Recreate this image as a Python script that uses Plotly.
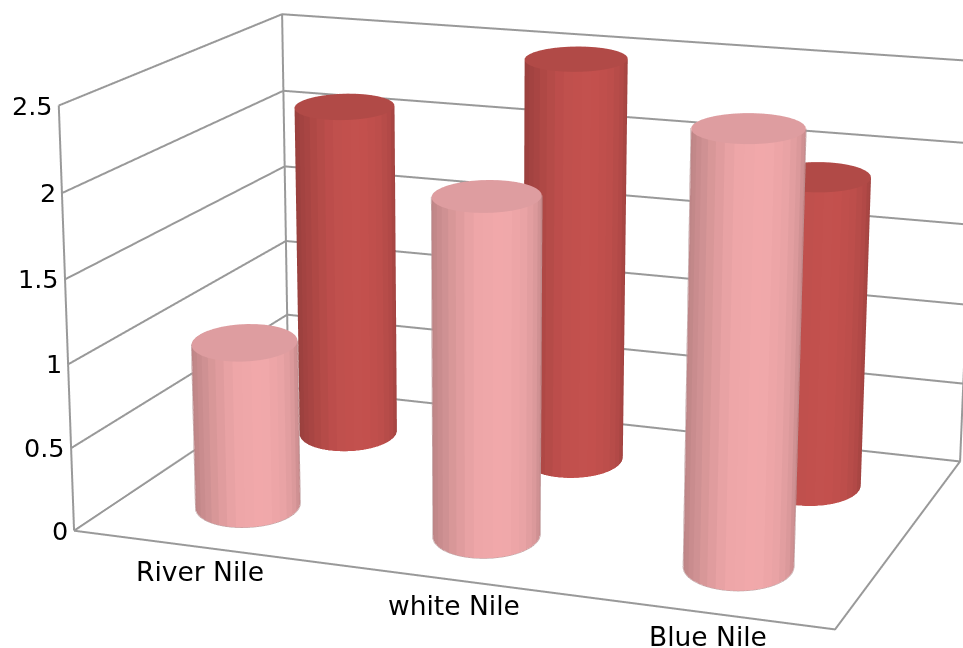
import numpy as np
import plotly.graph_objects as go

# Chart data
categories = ["River Nile", "white Nile", "Blue Nile"]
front_values = [1.0, 2.0, 2.5]
back_values = [2.1, 2.5, 1.9]
z_ticks = [0, 0.5, 1, 1.5, 2, 2.5]
z_tick_labels = ["0", "0.5", "1", "1.5", "2", "2.5"]

# Scene set-up: a long lens seen from the front right and slightly above
ASPECT = (1.0, 0.6784, 0.5544)
EYE = (1.3565, -3.8163, 1.091)
CENTER = (-0.0085, -0.1653, 0.0)
FOCAL_PX = 3229.0
HEIGHT_PX = 648
FOVY = 2 * np.arctan(HEIGHT_PX / 2 / FOCAL_PX)

X_RANGE = (0, len(categories))
Y_RANGE = (0, 2)
Z_RANGE = (0, 2.5)
RADIUS = 0.068       # half width of a cylinder, in scene units
DEPTH_STRETCH = 1.3  # bases are deeper than a true circle
SKEW = np.radians(6.5)
SIDES = 36
GRID = "#999999"
TICK_FONT = dict(family="DejaVu Sans", size=25.5, color="#000000")
LABEL_FONT = dict(family="DejaVu Sans", size=26.5, color="#000000")
LABEL_NUDGE = [8, 16, 9]
LABEL_DROP = [25, 28, 25]

SHADE_POS = [-1.0, -0.85, -0.55, -0.2, 0.3, 0.7, 0.9, 1.0]
SHADE_VAL = [0.78, 0.83, 0.91, 0.98, 1.0, 0.96, 0.90, 0.82]


def shaded(rgb, k):
    return "rgb({},{},{})".format(*[int(round(c * k)) for c in rgb])


def cylinder(xc, yc, height, side_rgb, cap_rgb, edge):
    to_x = (X_RANGE[1] - X_RANGE[0]) / ASPECT[0]
    to_y = (Y_RANGE[1] - Y_RANGE[0]) / ASPECT[1]

    # Ground-plane directions towards the camera and across the view
    sx = (xc - X_RANGE[0]) / to_x - ASPECT[0] / 2
    sy = (yc - Y_RANGE[0]) / to_y - ASPECT[1] / 2
    view = np.arctan2(EYE[1] - sy, EYE[0] - sx)
    across = np.array([np.cos(view + np.pi / 2), np.sin(view + np.pi / 2)])
    toward = np.array([np.cos(view), np.sin(view)])

    # Elliptical outline, long axis slightly turned from the line of sight
    axis = view - SKEW
    d_long = np.array([np.cos(axis), np.sin(axis)])
    d_short = np.array([-np.sin(axis), np.cos(axis)])

    def ring(a):
        pts = (RADIUS * DEPTH_STRETCH * np.cos(a))[:, None] * d_long \
            + (RADIUS * np.sin(a))[:, None] * d_short
        return pts

    a = np.linspace(0, 2 * np.pi, SIDES + 1)[:-1] + np.pi / SIDES
    pts = ring(a)
    xs = xc + pts[:, 0] * to_x
    ys = yc + pts[:, 1] * to_y

    vx = np.concatenate([xs, xs, [xc]])
    vy = np.concatenate([ys, ys, [yc]])
    vz = np.concatenate([np.zeros(SIDES), np.full(SIDES, height), [height]])

    # Facet shade follows the facet's position across the visible width
    mid = ring(a + np.pi / SIDES)
    lateral = mid @ across
    lateral = lateral / np.abs(lateral).max()

    i, j, k, colors = [], [], [], []
    for n in range(SIDES):
        m = (n + 1) % SIDES
        col = shaded(side_rgb, np.interp(lateral[n], SHADE_POS, SHADE_VAL))
        i += [n, n]
        j += [m, m + SIDES]
        k += [m + SIDES, n + SIDES]
        colors += [col, col]
        i.append(2 * SIDES)
        j.append(n + SIDES)
        k.append(m + SIDES)
        colors.append(shaded(cap_rgb, 1.0))

    mesh = go.Mesh3d(
        x=vx, y=vy, z=vz, i=i, j=j, k=k, facecolor=colors, flatshading=True,
        lighting=dict(ambient=1, diffuse=0, specular=0, roughness=1, fresnel=0),
        hoverinfo="skip", showscale=False,
    )
    if edge is None:
        return [mesh]

    # Outline: near half of the base and both silhouette edges
    t = np.linspace(0, 2 * np.pi, 145)[:-1]
    fine = ring(t) * 1.006
    side = fine @ across
    left, right = int(np.argmin(side)), int(np.argmax(side))
    order = np.arange(right, right + 145 - 1) % 144
    order = order[: ((left - right) % 144) + 1] if (fine[(right + 1) % 144] @ toward) > 0 \
        else np.arange(left, left + 144)[: ((right - left) % 144) + 1] % 144
    lx = list(xc + fine[order, 0] * to_x)
    ly = list(yc + fine[order, 1] * to_y)
    lz = [0] * len(order)
    for s in (left, right):
        px, py = xc + fine[s, 0] * to_x, yc + fine[s, 1] * to_y
        lx += [None, px, px]
        ly += [None, py, py]
        lz += [None, 0, height]
    outline = go.Scatter3d(x=lx, y=ly, z=lz, mode="lines",
                           line=dict(color=edge, width=1), hoverinfo="skip")
    return [mesh, outline]


fig = go.Figure()

# Frame: floor rectangle and the three visible uprights
x0, x1 = X_RANGE
y0, y1 = Y_RANGE
z0, z1 = Z_RANGE
frame_x = [x0, x1, x1, x0, x0, None, x0, x0, None, x0, x0, None, x1, x1]
frame_y = [y0, y0, y1, y1, y0, None, y0, y0, None, y1, y1, None, y1, y1]
frame_z = [z0, z0, z0, z0, z0, None, z0, z1, None, z0, z1, None, z0, z1]
fig.add_trace(go.Scatter3d(x=frame_x, y=frame_y, z=frame_z, mode="lines",
                           line=dict(color=GRID, width=4), hoverinfo="skip"))

# Value gridlines across the left and back walls
gx, gy, gz = [], [], []
for v in z_ticks:
    gx += [x0, x0, x1, None]
    gy += [y0, y1, y1, None]
    gz += [v, v, v, None]
fig.add_trace(go.Scatter3d(x=gx, y=gy, z=gz, mode="lines",
                           line=dict(color=GRID, width=4), hoverinfo="skip"))

for idx in range(len(categories)):
    for tr in cylinder(idx + 0.5, 1.5, back_values[idx],
                       (196, 81, 78), (177, 74, 71), None):
        fig.add_trace(tr)
    for tr in cylinder(idx + 0.5, 0.5, front_values[idx],
                       (242, 169, 171), (222, 157, 160), "#B9999A"):
        fig.add_trace(tr)

labels = []
for v, text in zip(z_ticks, z_tick_labels):
    labels.append(dict(x=x0, y=y0, z=v, text=text, showarrow=False, font=TICK_FONT,
                       xanchor="right", yanchor="middle", xshift=-4, yshift=0))
for idx, name in enumerate(categories):
    labels.append(dict(x=idx + 0.5, y=y0, z=z0, text=name, showarrow=False, font=LABEL_FONT,
                       xanchor="center", yanchor="middle",
                       xshift=LABEL_NUDGE[idx], yshift=-LABEL_DROP[idx]))

hidden = dict(visible=False, showgrid=False, zeroline=False, showbackground=False, showspikes=False)
fig.update_layout(
    width=963, height=HEIGHT_PX,
    margin=dict(l=0, r=0, t=0, b=0),
    paper_bgcolor="white",
    showlegend=False,
    scene=dict(
        xaxis=dict(range=list(X_RANGE), **hidden),
        yaxis=dict(range=list(Y_RANGE), **hidden),
        zaxis=dict(range=list(Z_RANGE), **hidden),
        aspectmode="manual",
        aspectratio=dict(x=ASPECT[0], y=ASPECT[1], z=ASPECT[2]),
        camera=dict(eye=dict(x=EYE[0], y=EYE[1], z=EYE[2]),
                    center=dict(x=CENTER[0], y=CENTER[1], z=CENTER[2]),
                    up=dict(x=0, y=0, z=1)),
        annotations=labels,
    ),
)

# The scene's lens is not a layout attribute, so it is narrowed once the plot exists
lens = ("var g=document.getElementById('{plot_id}');"
        "var s=g._fullLayout.scene._scene;"
        "s.glplot.fovy=%.6f;s.glplot.redraw();" % FOVY)
fig.write_html("out.html", post_script=lens, config=dict(displayModeBar=False))
